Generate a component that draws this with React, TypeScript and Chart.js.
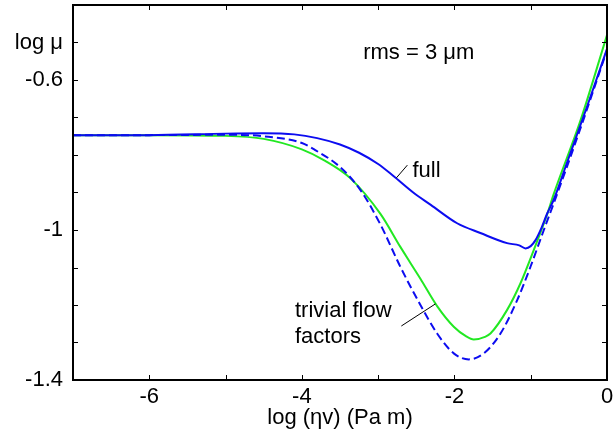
import React, { useEffect, useRef } from "react";
import { Chart, registerables } from "chart.js";

Chart.register(...registerables);

// ---- data (log ηv  vs  log μ) ----
const xFull = [-7, -6, -5, -4.5, -4.1, -3.8, -3.5, -3.25, -3.0, -2.8, -2.54, -2.31, -1.965, -1.66, -1.31, -1.15, -1.068, -1.0, -0.937, -0.86, -0.784, -0.7, -0.52, -0.26, 0];
const yFull = [-0.747, -0.747, -0.743, -0.742, -0.745, -0.755, -0.772, -0.794, -0.824, -0.856, -0.9, -0.933, -0.982, -1.008, -1.035, -1.041, -1.049, -1.043, -1.027, -0.995, -0.956, -0.92, -0.818, -0.67, -0.517];

const xTrivial = [-7, -6, -5, -4.5, -4.0, -3.7, -3.37, -2.97, -2.709, -2.577, -2.446, -2.227, -2.009, -1.85, -1.747, -1.6, -1.528, -1.309, -1.134, -0.959, -0.784, -0.7, -0.346, 0];
const yTrivial = [-0.747, -0.747, -0.749, -0.757, -0.785, -0.815, -0.861, -0.957, -1.045, -1.088, -1.13, -1.203, -1.258, -1.283, -1.292, -1.285, -1.276, -1.213, -1.142, -1.053, -0.958, -0.905, -0.707, -0.48];

const xTrivialAlt = [-7, -6, -5, -4.5, -4.0, -3.824, -3.5, -3.234, -2.971, -2.709, -2.446, -2.227, -2.009, -1.812, -1.616, -1.396, -1.177, -1.003, -0.828, -0.7, -0.35, 0];
const yTrivialAlt = [-0.747, -0.747, -0.746, -0.75, -0.768, -0.787, -0.832, -0.893, -0.985, -1.098, -1.2, -1.276, -1.329, -1.345, -1.329, -1.276, -1.187, -1.098, -1.0, -0.93, -0.73, -0.52];

// ---- axes / labels ----
const xMin = -7, xMax = 0, xStep = 1;
const yMin = -1.4, yMax = -0.4, yStep = 0.1;
const xLabeledTicks = [-6, -4, -2, 0];
const yLabeledTicks = [-0.6, -1, -1.4];
const yAxisTitle = "log μ";
const yAxisTitleAt = -0.5;
const xAxisTitle = "log (ηv) (Pa m)";

// annotation texts (data coordinates)
const noteRms = { text: "rms = 3 μm", x: -1.74, y: -0.543, align: "right" };
const noteFull = { text: "full", x: -2.55, y: -0.859, align: "left" };
const noteTrivial1 = { text: "trivial flow", x: -4.09, y: -1.232, align: "left" };
const noteTrivial2 = { text: "factors", x: -4.09, y: -1.301, align: "left" };
const leaderFull = [[-2.761, -0.861], [-2.617, -0.827]];
const leaderTrivial = [[-2.696, -1.256], [-2.249, -1.197]];

const FONT = "'Liberation Sans', Arial, Helvetica, sans-serif";
const FSIZE = 22;
const BLUE = "#0c0cf0";
const GREEN = "#22e822";

const pts = (xs: number[], ys: number[]) => xs.map((x, i) => ({ x, y: ys[i] }));

const framePlugin = {
  id: "frameAndNotes",
  afterDraw(chart: any) {
    const { ctx, chartArea, scales } = chart;
    const { left, right, top, bottom } = chartArea;
    const sx = scales.x, sy = scales.y;
    ctx.save();
    ctx.strokeStyle = "#000";
    ctx.lineWidth = 1;
    const tl = 5;
    ctx.beginPath();
    for (const t of sx.ticks) {
      const px = Math.round(sx.getPixelForValue(t.value)) + 0.5;
      ctx.moveTo(px, bottom); ctx.lineTo(px, bottom - tl);
      ctx.moveTo(px, top); ctx.lineTo(px, top + tl);
    }
    for (const t of sy.ticks) {
      const py = Math.round(sy.getPixelForValue(t.value)) + 0.5;
      ctx.moveTo(left, py); ctx.lineTo(left + tl, py);
      ctx.moveTo(right, py); ctx.lineTo(right - tl, py);
    }
    ctx.stroke();
    ctx.lineWidth = 2;
    ctx.strokeRect(left, top, right - left, bottom - top);

    // leader lines
    ctx.lineWidth = 1;
    for (const seg of [leaderFull, leaderTrivial]) {
      ctx.beginPath();
      ctx.moveTo(sx.getPixelForValue(seg[0][0]), sy.getPixelForValue(seg[0][1]));
      ctx.lineTo(sx.getPixelForValue(seg[1][0]), sy.getPixelForValue(seg[1][1]));
      ctx.stroke();
    }
    // notes
    ctx.fillStyle = "#000";
    ctx.font = `${FSIZE}px ${FONT}`;
    ctx.textBaseline = "alphabetic";
    for (const n of [noteRms, noteFull, noteTrivial1, noteTrivial2]) {
      ctx.textAlign = n.align as CanvasTextAlign;
      ctx.fillText(n.text, sx.getPixelForValue(n.x), sy.getPixelForValue(n.y));
    }
    ctx.restore();
  },
};

export default function App() {
  const ref = useRef<HTMLCanvasElement | null>(null);
  useEffect(() => {
    document.body.style.margin = "0";
    const canvas = ref.current;
    if (!canvas) return;
    const chart = new Chart(canvas, {
      type: "line",
      data: {
        datasets: [
          {
            label: "full",
            data: pts(xFull, yFull),
            borderColor: BLUE,
            borderWidth: 2,
            pointRadius: 0,
            cubicInterpolationMode: "monotone",
            fill: false,
          },
          {
            label: "trivial flow factors (dashed)",
            data: pts(xTrivialAlt, yTrivialAlt),
            borderColor: BLUE,
            borderWidth: 2,
            borderDash: [8, 4],
            pointRadius: 0,
            cubicInterpolationMode: "monotone",
            fill: false,
          },
          {
            label: "trivial flow factors",
            data: pts(xTrivial, yTrivial),
            borderColor: GREEN,
            borderWidth: 2,
            pointRadius: 0,
            cubicInterpolationMode: "monotone",
            fill: false,
          },
        ],
      },
      options: {
        responsive: false,
        animation: false,
        devicePixelRatio: 1,
        layout: { padding: { top: 5, right: 9, left: 0, bottom: 0 } },
        plugins: { legend: { display: false }, tooltip: { enabled: false } },
        scales: {
          x: {
            type: "linear",
            min: xMin,
            max: xMax,
            grid: { display: false, drawTicks: false },
            border: { display: false },
            ticks: {
              stepSize: xStep,
              autoSkip: false,
              maxRotation: 0,
              padding: 4,
              color: "#000",
              font: { family: FONT, size: FSIZE },
              callback: (v: any) => {
                const n = Math.round(Number(v));
                return xLabeledTicks.includes(n) ? String(n) : "";
              },
            },
            title: {
              display: true,
              text: xAxisTitle,
              color: "#000",
              font: { family: FONT, size: FSIZE },
              padding: { top: 0, bottom: 8 },
            },
            afterFit: (s: any) => {
              s.height = 59;
              s.paddingLeft = 0;
              s.paddingRight = 0;
            },
          },
          y: {
            type: "linear",
            min: yMin,
            max: yMax,
            grid: { display: false, drawTicks: false },
            border: { display: false },
            ticks: {
              stepSize: yStep,
              autoSkip: false,
              padding: 10,
              color: "#000",
              font: { family: FONT, size: FSIZE },
              callback: (v: any) => {
                const n = Math.round(Number(v) * 10) / 10;
                if (n === yAxisTitleAt) return yAxisTitle;
                return yLabeledTicks.includes(n) ? String(n) : "";
              },
            },
            afterFit: (s: any) => {
              s.width = 73;
              s.paddingTop = 0;
              s.paddingBottom = 0;
            },
          },
        },
      },
      plugins: [framePlugin],
    } as any);
    return () => chart.destroy();
  }, []);
  return (
    <div style={{ width: 616, height: 439 }}>
      <canvas ref={ref} width={616} height={439} style={{ display: "block" }} />
    </div>
  );
}
